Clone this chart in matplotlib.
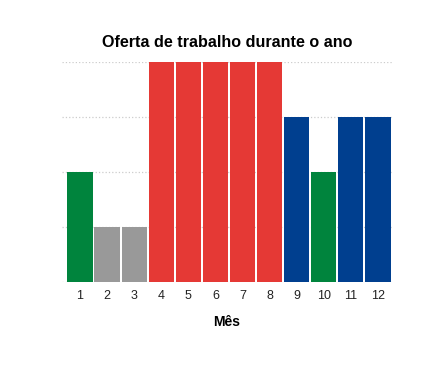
import matplotlib.pyplot as plt

plt.rcParams['font.family'] = ['Liberation Sans', 'DejaVu Sans']

meses = list(range(1, 13))
oferta = [2, 1, 1, 4, 4, 4, 4, 4, 3, 2, 3, 3]
cores = ['#00843d', '#999999', '#999999', '#e53935', '#e53935', '#e53935',
         '#e53935', '#e53935', '#003f8f', '#00843d', '#003f8f', '#003f8f']

fig = plt.figure(figsize=(4.4, 3.75), dpi=100)
ax = fig.add_axes([0.141, 0.248, 0.75, 0.587])

ax.set_axisbelow(True)
ax.grid(axis='y', color='#cccccc', linestyle=':', linewidth=0.9)
ax.bar(meses, oferta, width=0.93, color=cores)

ax.set_xlim(0.34, 12.52)
ax.set_ylim(0, 4)
ax.set_yticks([0, 1, 2, 3, 4])
ax.set_yticklabels([])
ax.set_xticks(meses)
ax.tick_params(length=0, labelsize=9, pad=6, labelcolor='#222222')
for s in ax.spines.values():
    s.set_visible(False)

ax.set_xlabel('Mês', fontsize=10, fontweight='bold', labelpad=9)
fig.text(0.517, 0.886, 'Oferta de trabalho durante o ano', fontsize=11.6,
         fontweight='bold', ha='center', va='center')

fig.savefig('out.png', dpi=100)
